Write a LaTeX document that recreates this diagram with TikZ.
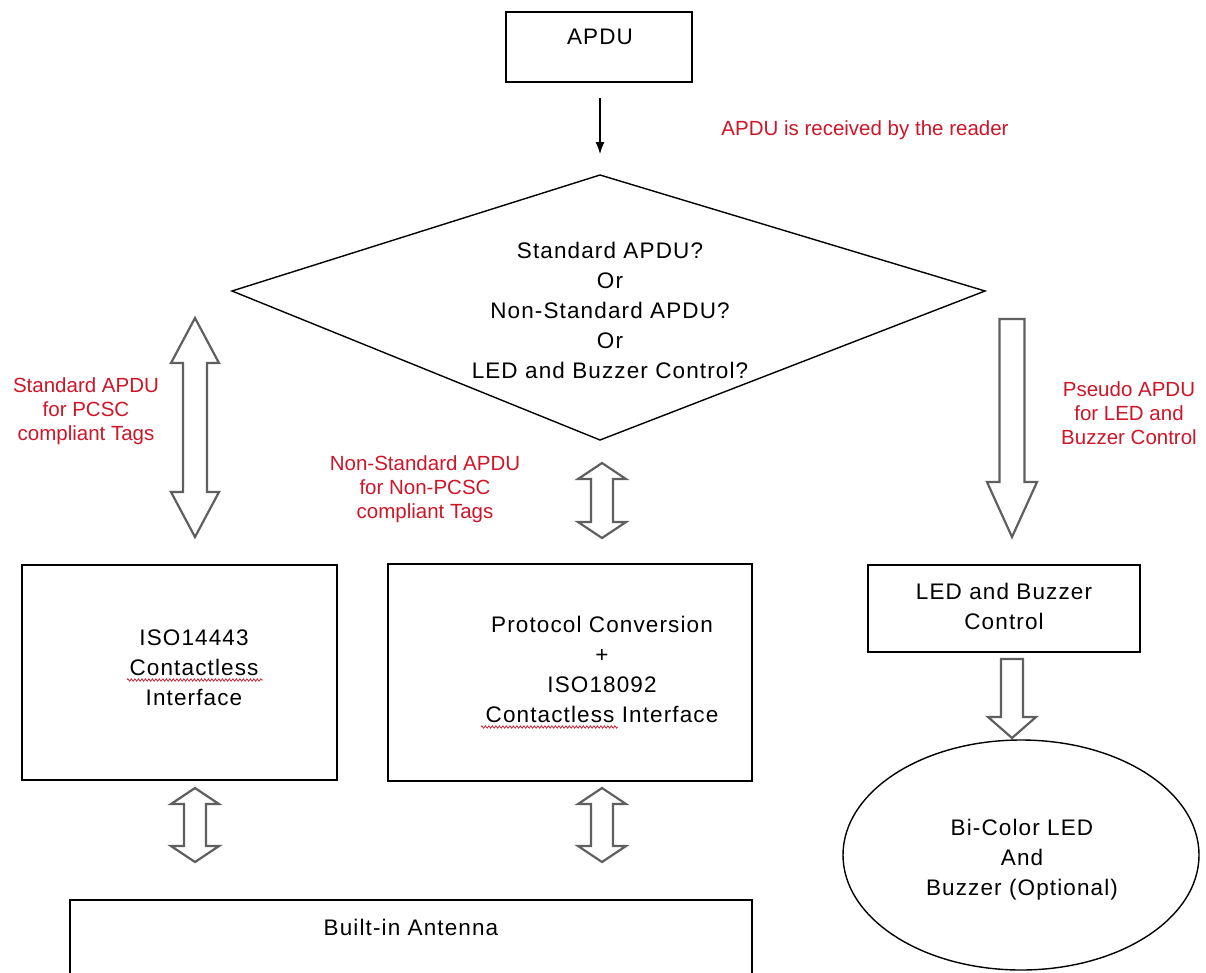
\documentclass[tikz,border=0pt]{standalone}
\usepackage{fontspec}
\setmainfont{Liberation Sans}
\usetikzlibrary{arrows.meta,shapes.geometric,decorations.pathmorphing}

\definecolor{notered}{RGB}{205,22,40}
\definecolor{arrowgray}{RGB}{95,95,95}

% hollow block arrows: x, tip top, tip bottom, half shaft, half head, head length
\newcommand{\fatboth}[6]{%
  \draw[fat] (#1,#2) -- (#1+#5,#2+#6) -- (#1+#4,#2+#6) -- (#1+#4,#3-#6)
    -- (#1+#5,#3-#6) -- (#1,#3) -- (#1-#5,#3-#6) -- (#1-#4,#3-#6)
    -- (#1-#4,#2+#6) -- (#1-#5,#2+#6) -- cycle;}
\newcommand{\fatdown}[6]{%
  \draw[fat] (#1-#4,#2) -- (#1+#4,#2) -- (#1+#4,#3-#6) -- (#1+#5,#3-#6)
    -- (#1,#3) -- (#1-#5,#3-#6) -- (#1-#4,#3-#6) -- cycle;}

\begin{document}
\begin{tikzpicture}[x=1pt, y=-1pt, > = {Latex[length=12pt,width=9pt]},
  box/.style = {draw, line width=1.4pt, inner sep=0pt},
  txt/.style = {align=center, inner sep=0pt, font=\fontsize{22.5}{30}\selectfont\addfontfeature{LetterSpace=5}},
  note/.style = {align=center, inner sep=0pt, text=notered, font=\fontsize{20.5}{24}\selectfont},
  fat/.style = {draw=arrowgray, line width=2.2pt, fill=white, line join=miter},
  squiggle/.style = {notered, line width=0.7pt, decorate, decoration={zigzag, amplitude=1.2pt, segment length=3.5pt}}]

    \useasboundingbox (0,0) rectangle (1206,972);
    \clip (0,0) rectangle (1206,972);

    % top of the flow
    \node[box, minimum width=186pt, minimum height=70pt] (apdu) at (599,47) {};
    \node[txt] (apdutxt) at (600,37) {APDU};
    \coordinate (arrtop) at (600,98);
    \coordinate (arrbot) at (600,154);
    \draw[->, line width=1.1pt] (arrtop) -- (arrbot);
    \node[note] (received) at (865,130) {APDU is received by the reader};

    % decision
    \coordinate (dtop) at (600,175);
    \coordinate (dright) at (985,291);
    \coordinate (dbot) at (600,440);
    \coordinate (dleft) at (232,291);
    \draw[line width=1.4pt] (dtop) -- (dright) -- (dbot) -- (dleft) -- cycle;
    \node[txt] (query) at (610,310) {Standard APDU?\\Or\\Non-Standard APDU?\\Or\\LED and Buzzer Control?};

    % block arrows
    \fatboth{195}{318}{537}{12}{24}{45}
    \fatboth{602}{463}{538}{11}{24}{16}
    \fatdown{1012}{319}{537}{12.5}{25}{55}
    \fatdown{1012}{659}{738}{11}{24}{21}
    \fatboth{195}{788}{862}{11}{24}{16}
    \fatboth{602}{788}{862}{11}{24}{16}

    \node[note] (pcsc) at (86,411) {Standard APDU\\for PCSC\\compliant Tags};
    \node[note] (nonpcsc) at (425,489) {Non-Standard APDU\\for Non-PCSC\\compliant Tags};
    \node[note] (pseudo) at (1129,413) {Pseudo APDU\\for LED and\\Buzzer Control};

    % boxes
    \node[box, minimum width=315pt, minimum height=215pt] (iso14443) at (179.5,672.5) {};
    \node[txt] (isotxt) at (194,668) {ISO14443\\Contactless\\Interface};
    \node[box, minimum width=364pt, minimum height=217pt] (protocol) at (570,672.5) {};
    \node[txt] (prototxt) at (602,669) {Protocol Conversion\\+\\ISO18092\\Contactless Interface};
    \node[box, minimum width=272pt, minimum height=87pt] (ledbox) at (1004,608.5) {};
    \node[txt] (ledtxt) at (1004,606) {LED and Buzzer\\Control};
    \node[draw, ellipse, line width=1.4pt, minimum width=356pt, minimum height=230pt] (ledout) at (1021,855) {};
    \node[txt] (ledouttxt) at (1022,860) {Bi-Color LED\\And\\Buzzer (Optional)};
    \node[box, minimum width=682pt, minimum height=120pt] (antenna) at (411,960) {};
    \node[txt] (antennatxt) at (411,927) {Built-in Antenna};

    % spell-check marks
    \draw[squiggle] (127,680) -- (263,680);
    \draw[squiggle] (481,727) -- (618,727);

\end{tikzpicture}
\end{document}
